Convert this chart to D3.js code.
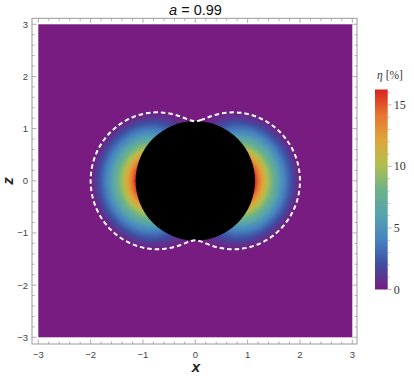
<!DOCTYPE html>
<html><head><meta charset="utf-8">
<script src="https://cdn.jsdelivr.net/npm/d3@7"></script>
<style>body{margin:0;background:#fff}svg{display:block}</style>
</head><body>
<script>
// ---- data ----
const spin = 0.99;
const horizonR = 1.141;               // radius of the black disk
const xTicks = [-3,-2,-1,0,1,2,3];
const zTicks = [-3,-2,-1,0,1,2,3];
const cbTicks = [0,5,10,15];
const etaMax = 16.25;
// ergosphere boundary radius vs polar angle (deg from +z axis), one quadrant
const ergoTheta = [0,5,10,15,20,25,30,35,40,45,50,55,60,65,70,75,80,85,90];
const ergoR = [1.141,1.165,1.2225,1.2925,1.367,1.4415,1.515,1.585,1.652,1.714,1.771,1.823,1.869,1.908,1.941,1.967,1.985,1.996,2.0];
// efficiency eta [%] sampled on a polar grid (rows: polar angle, cols: radius)
const gridTheta = [0,10,20,30,40,50,60,70,80,90];
const gridR = [1.141,1.2,1.3,1.4,1.5,1.6,1.7,1.8,1.9,2.0];
const etaGrid = [
 [0,0,0,0,0,0,0,0,0,0],
 [0.33,0.10,0,0,0,0,0,0,0,0],
 [1.30,1.01,0.43,0,0,0,0,0,0,0],
 [2.92,2.52,1.77,0.96,0.12,0,0,0,0,0],
 [5.13,4.57,3.57,2.55,1.52,0.51,0,0,0,0],
 [7.81,7.03,5.70,4.40,3.15,1.94,0.79,0,0,0],
 [10.73,9.67,7.96,6.34,4.83,3.40,2.07,0.82,0,0],
 [13.46,12.12,10.01,8.09,6.32,4.69,3.19,1.80,0.50,0],
 [15.46,13.90,11.48,9.32,7.36,5.58,3.96,2.47,1.09,0],
 [16.2,14.55,12.0,9.76,7.74,5.90,4.23,2.70,1.30,0]
];
const rainbow = ["#781C81","#3F4EA1","#4683C1","#57A3AD","#6DB388","#B1BE4E","#DFA53A","#E7742F","#D92120"];

// ---- layout ----
const W=414,H=378;
const svg=d3.select('body').append('svg').attr('width',W).attr('height',H)
  .style('font-family','"Liberation Sans", Arial, sans-serif');
const xs=d3.scaleLinear().domain([-3,3]).range([38.3,352.3]);
const ys=d3.scaleLinear().domain([-3,3]).range([337.3,24.3]);
const color=d3.scaleLinear().domain(rainbow.map((c,i)=>i*etaMax/(rainbow.length-1))).range(rainbow).clamp(true);

// ---- density field ----
function lookup(thDeg, r){
  if(r>=gridR[gridR.length-1]) return 0;
  let rr=Math.max(r,gridR[0]);
  let j=d3.bisectRight(gridR,rr)-1; j=Math.min(Math.max(j,0),gridR.length-2);
  let i=Math.min(Math.floor(thDeg/10),gridTheta.length-2);
  const ti=(thDeg-gridTheta[i])/(gridTheta[i+1]-gridTheta[i]);
  const tj=(rr-gridR[j])/(gridR[j+1]-gridR[j]);
  const a=etaGrid[i][j],b=etaGrid[i][j+1],c=etaGrid[i+1][j],d=etaGrid[i+1][j+1];
  return (a*(1-tj)+b*tj)*(1-ti)+(c*(1-tj)+d*tj)*ti;
}
const px0=xs(-3),py0=ys(3),pw=xs(3)-xs(-3),ph=ys(-3)-ys(3);
const cw=Math.round(pw),ch=Math.round(ph);
const canvas=document.createElement('canvas');canvas.width=cw;canvas.height=ch;
const ctx=canvas.getContext('2d');const img=ctx.createImageData(cw,ch);
for(let py=0;py<ch;py++){
  const zv=ys.invert(py0+(py+0.5)*ph/ch);
  for(let px=0;px<cw;px++){
    const xv=xs.invert(px0+(px+0.5)*pw/cw);
    const r=Math.hypot(xv,zv);
    const th=r>0?Math.acos(Math.min(1,Math.abs(zv)/r))*180/Math.PI:0;
    const e=lookup(th,r);
    const c=d3.rgb(color(e));
    const k=4*(py*cw+px);
    img.data[k]=c.r;img.data[k+1]=c.g;img.data[k+2]=c.b;img.data[k+3]=255;
  }
}
ctx.putImageData(img,0,0);
svg.append('image').attr('x',px0).attr('y',py0).attr('width',pw).attr('height',ph)
  .attr('preserveAspectRatio','none').attr('href',canvas.toDataURL());

// black disk
svg.append('circle').attr('cx',xs(0)).attr('cy',ys(0))
  .attr('r',xs(horizonR)-xs(0)).attr('fill','#000');

// ergosphere dashed boundary (full closed curve from the quadrant by symmetry)
const ergoPts=[];
const n=ergoTheta.length;
for(let q=0;q<4;q++){
  for(let k=0;k<n-1;k++){
    const idx=(q%2===0)?k:(n-1-k);
    const phi=q*90+((q%2===0)?ergoTheta[idx]:(90-ergoTheta[idx]));
    const rad=phi*Math.PI/180;
    ergoPts.push([ergoR[idx]*Math.sin(rad),ergoR[idx]*Math.cos(rad)]);
  }
}
svg.append('path').datum(ergoPts)
  .attr('d',d3.line().x(d=>xs(d[0])).y(d=>ys(d[1])).curve(d3.curveCatmullRomClosed.alpha(0.5)))
  .attr('fill','none').attr('stroke','#fff').attr('stroke-width',2).attr('stroke-dasharray','4.5,3');

// ---- frame and ticks ----
const fL=32,fR=357,fT=18.3,fB=344;
const frameCol='#9a9a9a';
svg.append('rect').attr('x',fL).attr('y',fT).attr('width',fR-fL).attr('height',fB-fT)
  .attr('fill','none').attr('stroke',frameCol).attr('stroke-width',1);
const minor=d3.range(-3,3.001,0.2).map(v=>Math.round(v*10)/10).filter(v=>!Number.isInteger(v));
const tg=svg.append('g').attr('stroke',frameCol).attr('stroke-width',0.8);
function tick(v,len,isX){
  if(isX){
    tg.append('line').attr('x1',xs(v)).attr('x2',xs(v)).attr('y1',fB).attr('y2',fB-len);
    tg.append('line').attr('x1',xs(v)).attr('x2',xs(v)).attr('y1',fT).attr('y2',fT+len);
  }else{
    tg.append('line').attr('y1',ys(v)).attr('y2',ys(v)).attr('x1',fL).attr('x2',fL+len);
    tg.append('line').attr('y1',ys(v)).attr('y2',ys(v)).attr('x1',fR).attr('x2',fR-len);
  }
}
xTicks.forEach(v=>tick(v,4.5,true));minor.forEach(v=>tick(v,2.5,true));
zTicks.forEach(v=>tick(v,4.5,false));minor.forEach(v=>tick(v,2.5,false));
const fmt=v=>v<0?'\u2212'+Math.abs(v):String(v);
svg.append('g').selectAll('text').data(xTicks).join('text')
  .attr('x',d=>xs(d)).attr('y',357.5).attr('text-anchor','middle')
  .attr('font-size',9.5).attr('fill','#444').text(fmt);
svg.append('g').selectAll('text').data(zTicks).join('text')
  .attr('x',28).attr('y',d=>ys(d)+3.4).attr('text-anchor','end')
  .attr('font-size',9.5).attr('fill','#444').text(fmt);
svg.append('text').attr('x',196).attr('y',372).attr('text-anchor','middle')
  .attr('font-size',15).attr('font-style','italic').attr('font-weight','bold').attr('fill','#222').text('x');
svg.append('text').attr('transform','translate(13,181) rotate(-90)').attr('text-anchor','middle')
  .attr('font-size',15).attr('font-style','italic').attr('font-weight','bold').attr('fill','#222').text('z');

// title
const t=svg.append('text').attr('x',195.5).attr('y',15).attr('text-anchor','middle')
  .attr('font-size',14.5).attr('fill','#111');
t.append('tspan').attr('font-style','italic').text('a');
t.append('tspan').text(' = '+spin);

// ---- colour bar ----
const cb=d3.scaleLinear().domain([0,etaMax]).range([289.5,89.5]);
const grad=svg.append('defs').append('linearGradient').attr('id','cbg')
  .attr('x1',0).attr('y1',1).attr('x2',0).attr('y2',0);
rainbow.forEach((c,i)=>grad.append('stop').attr('offset',i/(rainbow.length-1)).attr('stop-color',c));
const cbx=375,cbw=12.7;
svg.append('rect').attr('x',cbx).attr('y',cb(etaMax)).attr('width',cbw).attr('height',cb(0)-cb(etaMax))
  .attr('fill','url(#cbg)');
const cg=svg.append('g').attr('stroke','#aaa').attr('stroke-width',0.8);
d3.range(0,17).forEach(v=>{
  const major=cbTicks.includes(v);
  cg.append('line').attr('x1',cbx+cbw).attr('x2',cbx+cbw+(major?4:2)).attr('y1',cb(v)).attr('y2',cb(v));
});
svg.append('g').selectAll('text').data(cbTicks).join('text')
  .attr('x',cbx+cbw+6).attr('y',d=>cb(d)+4).attr('font-family','"Liberation Serif", "Times New Roman", serif')
  .attr('font-size',12).attr('fill','#333').text(d=>d);
const lt=svg.append('text').attr('x',390).attr('y',79).attr('text-anchor','middle')
  .attr('font-family','"Liberation Serif", "Times New Roman", serif').attr('font-size',11.5).attr('fill','#333');
lt.append('tspan').attr('font-style','italic').text('\u03B7');
lt.append('tspan').text(' [%]');
</script>
</body></html>
